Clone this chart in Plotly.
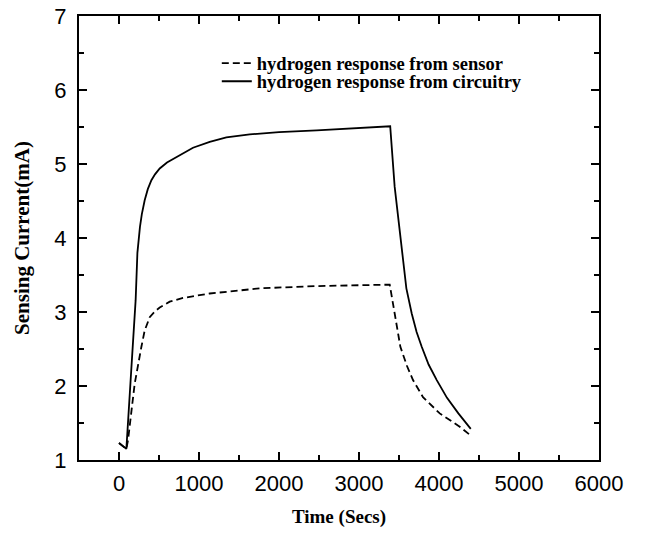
import plotly.graph_objects as go

# Hydrogen response from sensor (dashed)
time_sensor = [0, 92, 113, 196, 280, 321, 384, 450, 509, 634, 800, 1134, 1500, 1759,
               2471, 3000, 3384, 3446, 3517, 3600, 3675, 3800, 4009, 4259, 4397]
current_sensor = [1.23, 1.15, 1.27, 2.03, 2.53, 2.75, 2.93, 3.01, 3.06, 3.14, 3.19, 3.25,
                  3.29, 3.32, 3.35, 3.36, 3.37, 2.98, 2.53, 2.27, 2.08, 1.85, 1.63, 1.45, 1.33]

# Hydrogen response from circuitry (solid)
time_circuit = [0, 92, 150, 208, 230, 245, 262, 285, 321, 360, 405, 450, 509, 600, 717,
                820, 925, 1134, 1342, 1634, 2000, 2471, 2900, 3304, 3390, 3446, 3538, 3592,
                3659, 3720, 3784, 3870, 3972, 4100, 4242, 4320, 4397]
current_circuit = [1.23, 1.15, 2.16, 3.16, 3.80, 4.00, 4.15, 4.32, 4.51, 4.66, 4.78, 4.86,
                   4.94, 5.02, 5.09, 5.16, 5.22, 5.30, 5.36, 5.40, 5.43, 5.455, 5.48, 5.50,
                   5.51, 4.69, 3.79, 3.32, 2.98, 2.73, 2.53, 2.29, 2.08, 1.84, 1.63, 1.52,
                   1.42]

x_ticks = [0, 1000, 2000, 3000, 4000, 5000, 6000]
y_ticks = [1, 2, 3, 4, 5, 6, 7]

fig = go.Figure()
fig.add_trace(go.Scatter(x=time_sensor, y=current_sensor, mode="lines",
                         name="hydrogen response from sensor", legend="legend",
                         line=dict(color="black", width=1.8, dash="7px,4px")))
fig.add_trace(go.Scatter(x=time_circuit, y=current_circuit, mode="lines",
                         name="hydrogen response from circuitry", legend="legend2",
                         line=dict(color="black", width=1.8)))

axis_common = dict(
    showgrid=False, zeroline=False, showline=True, linecolor="black", linewidth=2,
    mirror="allticks", ticks="inside", ticklen=8, tickwidth=1.5, tickcolor="black",
    automargin=False, ticklabeloverflow="allow",
    tickfont=dict(family="Liberation Sans, Arial", size=22, color="black"),
)

fig.update_xaxes(range=[-500, 6000], tickvals=x_ticks, ticktext=[str(v) for v in x_ticks],
                 minor=dict(dtick=500, tick0=0, ticks="inside", ticklen=5, tickwidth=1.5,
                            tickcolor="black"),
                 ticklabelstandoff=3,
                 title=dict(text="Time (Secs)", standoff=14,
                            font=dict(family="Liberation Serif, Times New Roman", size=19,
                                      color="black", weight="bold")),
                 **axis_common)
fig.update_yaxes(range=[1, 7], tickvals=y_ticks, ticktext=[str(v) for v in y_ticks],
                 minor=dict(dtick=0.5, tick0=1, ticks="inside", ticklen=5, tickwidth=1.5,
                            tickcolor="black"),
                 ticklabelstandoff=6,
                 title=dict(text="Sensing Current(mA)", standoff=19,
                            font=dict(family="Liberation Serif, Times New Roman", size=21,
                                      color="black", weight="bold")),
                 **axis_common)

legend_font = dict(family="Liberation Serif, Times New Roman", size=18.5,
                   color="black", weight="bold")
fig.update_layout(
    width=647, height=538,
    margin=dict(l=79, r=48, t=16, b=78),
    plot_bgcolor="white", paper_bgcolor="white",
    showlegend=True,
    legend=dict(x=0.265, y=0.893, xanchor="left", yanchor="middle",
                bgcolor="rgba(0,0,0,0)", font=legend_font),
    legend2=dict(x=0.265, y=0.852, xanchor="left", yanchor="middle",
                 bgcolor="rgba(0,0,0,0)", font=legend_font),
)

fig.write_html("out.html", config={"displayModeBar": False},
               post_script="document.body.style.margin='0';")
